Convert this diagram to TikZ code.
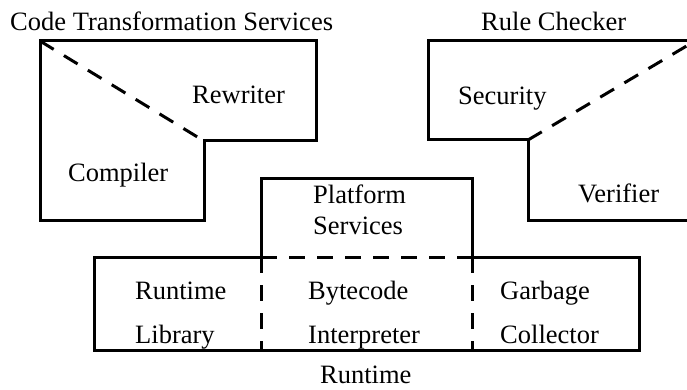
\documentclass[tikz,border=0pt]{standalone}
\usepackage{fontspec}
\setmainfont{Liberation Serif}
\begin{document}
\begin{tikzpicture}[x=1pt,y=-1pt,
  outline/.style={line width=3pt,line join=miter},
  dashline/.style={line width=3pt,dash pattern=on 16pt off 12pt},
  lbl/.style={anchor=base west,inner sep=0pt,font=\fontsize{26.5}{30}\selectfont}]
\useasboundingbox (0,0) rectangle (687,390);
\clip (0,0) rectangle (687,390);
% coordinates
\coordinate (ctA) at (40,41);
\coordinate (ctB) at (316,41);
\coordinate (ctC) at (316,141);
\coordinate (ctD) at (204,141);
\coordinate (ctE) at (204,220);
\coordinate (ctF) at (40,220);
\coordinate (rcA) at (428,41);
\coordinate (rcB) at (695,41);
\coordinate (rcC) at (695,220);
\coordinate (rcD) at (528,220);
\coordinate (rcE) at (528,140);
\coordinate (rcF) at (428,140);
\coordinate (psL) at (261,257);
\coordinate (psTL) at (261,178);
\coordinate (psTR) at (472,178);
\coordinate (psR) at (472,257);
\coordinate (rtTL) at (94,257);
\coordinate (rtBL) at (94,350);
\coordinate (rtBR) at (639,350);
\coordinate (rtTR) at (639,257);
\coordinate (rtB1) at (261,350);
\coordinate (rtB2) at (472,350);
% Code Transformation Services
\draw[outline] (ctA) -- (ctB) -- (ctC) -- (ctD) -- (ctE) -- (ctF) -- cycle;
\draw[dashline] (ctA) -- (ctD);
% Rule Checker
\draw[outline] (rcA) -- (rcB) -- (rcC) -- (rcD) -- (rcE) -- (rcF) -- cycle;
\draw[dashline] (rcE) -- (rcB);
% Platform Services
\draw[outline] (psL) -- (psTL) -- (psTR) -- (psR);
% Runtime
\draw[outline] (psL) -- (rtTL) -- (rtBL) -- (rtBR) -- (rtTR) -- (psR);
\draw[dashline] (psL) -- (psR);
\draw[dashline] (psL) -- (rtB1);
\draw[dashline] (psR) -- (rtB2);
% labels
\node[lbl] (tCTS) at (10,31) {Code Transformation Services};
\node[lbl] (tRC) at (481,31) {Rule Checker};
\node[lbl] (tRew) at (192,104) {Rewriter};
\node[lbl] (tComp) at (68,182) {Compiler};
\node[lbl] (tSec) at (458,105) {Security};
\node[lbl] (tVer) at (578,202) {Verifier};
\node[lbl] (tPlat) at (313,203) {Platform};
\node[lbl] (tServ) at (313,234) {Services};
\node[lbl] (tRL1) at (135,299) {Runtime};
\node[lbl] (tRL2) at (135,343) {Library};
\node[lbl] (tBI1) at (308,299) {Bytecode};
\node[lbl] (tBI2) at (308,343) {Interpreter};
\node[lbl] (tGC1) at (500,299) {Garbage};
\node[lbl] (tGC2) at (500,343) {Collector};
\node[lbl] (tRT) at (320,383) {Runtime};
\end{tikzpicture}
\end{document}
